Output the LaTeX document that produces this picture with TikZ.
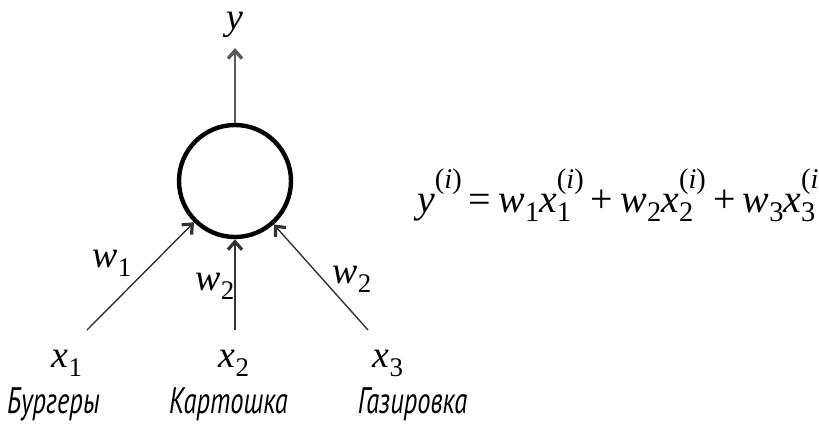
\documentclass[tikz,border=0pt]{standalone}
\usepackage{fontspec}
\setmainfont{Liberation Serif}
\newfontfamily\cyrfont[FakeStretch=0.72]{PT Sans}
\usetikzlibrary{arrows.meta}
\newcommand\subscr[1]{\raisebox{-0.24em}{\fontsize{27}{28}\selectfont #1}}
\newcommand\supscr[1]{\raisebox{0.58em}{\fontsize{27}{28}\selectfont #1}}
\newcommand\esubscr[1]{\raisebox{-0.24em}{\fontsize{28.5}{29}\selectfont #1}}
\newcommand\esupscr[1]{\raisebox{0.58em}{\fontsize{28.5}{29}\selectfont #1}}
\newcommand\lvar[2]{\textit{#1}\subscr{#2}}
\newcommand\evar[2]{\textit{#1}\esubscr{#2}}
\newcommand\evarsup[2]{\textit{#1}\rlap{\esubscr{#2}}\esupscr{(\textit{i})}}
\newcommand\opsp[1]{\hspace{0.18em}#1\hspace{0.18em}}
\begin{document}
\begin{tikzpicture}[x=1bp,y=-1bp,
  lbl/.style={inner sep=0pt, anchor=base, font=\fontsize{38}{40}\selectfont},
  cyr/.style={inner sep=0pt, anchor=base, font=\cyrfont\itshape\fontsize{37}{38}\selectfont},
  inline/.style={line width=1.4bp, draw=black!80, -{Straight Barb[length=8bp,width=14bp,line width=3.2bp]}},
  outline/.style={line width=1.9bp, draw=black!65, -{Straight Barb[length=8bp,width=14bp,line width=3.4bp]}},
  neuron/.style={circle, draw=black, line width=4.4bp, minimum size=112bp, inner sep=0pt}
]
\useasboundingbox (0,0) rectangle (819,424);
\node[neuron] (n) at (235,181) {};
\coordinate (s1) at (87,330);
\coordinate (s2) at (235,330);
\coordinate (s3) at (368,330);
\coordinate (yt) at (235,48);
\draw[inline] (s1) -- (n);
\draw[inline] (s2) -- (n);
\draw[inline] (s3) -- (n);
\draw[outline] (n) -- (yt);
\node[lbl] (ly) at (235,29) {\textit{y}};
\node[lbl] (lx1) at (67,367) {\lvar{x}{1}};
\node[lbl] (lx2) at (234,367) {\lvar{x}{2}};
\node[lbl] (lx3) at (388,367) {\lvar{x}{3}};
\node[lbl] (lw1) at (112,267) {\lvar{w}{1}};
\node[lbl] (lw2a) at (215,290) {\lvar{w}{2}};
\node[lbl] (lw2b) at (352,283) {\lvar{w}{2}};
\node[anchor=base west, inner sep=0pt, font=\fontsize{40}{42}\selectfont] (eq) at (417,212)
  {\textit{y}\esupscr{(\textit{i})}\opsp{=}\evar{w}{1}\evarsup{x}{1}\opsp{+}\evar{w}{2}\evarsup{x}{2}\opsp{+}\evar{w}{3}\evarsup{x}{3}};
\node[cyr] (c1) at (53.5,413) {Бургеры};
\node[cyr] (c2) at (228.5,413) {Картошка};
\node[cyr] (c3) at (412.5,413) {Газировка};
\end{tikzpicture}
\end{document}
